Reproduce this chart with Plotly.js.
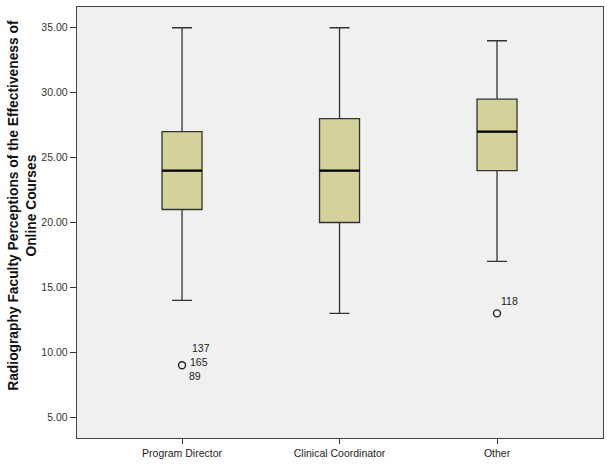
<!DOCTYPE html>
<html><head><meta charset="utf-8">
<script src="https://cdn.plot.ly/plotly-3.0.1.min.js"></script>
<style>body{margin:0;background:#fff}#chart{width:607px;height:470px}</style>
</head><body><div id="chart"></div>
<script>
const categories = ["Program Director", "Clinical Coordinator", "Other"];
const lowerWhisker = [14, 13, 17];
const q1Values = [21, 20, 24];
const medianValues = [24, 24, 27];
const q3Values = [27, 28, 29.5];
const upperWhisker = [35, 35, 34];
const outlierGroup = [0, 2];
const outlierValues = [9, 13];
const outlierLabels = [["137", "165", "89"], ["118"]];
const yTicks = [5, 10, 15, 20, 25, 30, 35];
const yTitle = "Radiography Faculty Perceptions of the Effectiveness of<br>Online Courses";

const BOXW = 0.254;
const xs = categories.map((c, i) => i);

const boxTrace = {
  type: 'box',
  x: xs,
  q1: q1Values, median: medianValues, q3: q3Values,
  lowerfence: lowerWhisker, upperfence: upperWhisker,
  width: BOXW,
  whiskerwidth: 0.5,
  fillcolor: 'rgb(212,210,154)',
  line: {color: '#333333', width: 1.3},
  boxpoints: false,
  hoverinfo: 'skip',
  showlegend: false
};

const mx = [], my = [];
xs.forEach((x, i) => { mx.push(x - BOXW/2, x + BOXW/2, null); my.push(medianValues[i], medianValues[i], null); });
const medianTrace = {type: 'scatter', mode: 'lines', x: mx, y: my, line: {color: '#000', width: 2.2}, hoverinfo: 'skip', showlegend: false};

const outTrace = {
  type: 'scatter', mode: 'markers',
  x: outlierGroup, y: outlierValues,
  marker: {symbol: 'circle-open', size: 7, color: '#222', line: {width: 1.4, color: '#222'}},
  hoverinfo: 'skip', showlegend: false
};

const annotations = [];
outlierGroup.forEach((g, k) => {
  const labs = outlierLabels[k];
  if (labs.length === 3) {
    const shifts = [[8, 17], [6, 3], [5, -11]];
    labs.forEach((t, j) => annotations.push({x: g, y: outlierValues[k], text: t, showarrow: false, xanchor: 'left', yanchor: 'middle', xshift: shifts[j][0], yshift: shifts[j][1], font: {family: 'Liberation Sans, Arial', size: 10.5, color: '#222'}}));
  } else {
    labs.forEach(t => annotations.push({x: g, y: outlierValues[k], text: t, showarrow: false, xanchor: 'left', yanchor: 'middle', xshift: 2, yshift: 12, font: {family: 'Liberation Sans, Arial', size: 10.5, color: '#222'}}));
  }
});
annotations.push({
  xref: 'paper', yref: 'paper', x: -0.1036, y: 0.54, xanchor: 'center', yanchor: 'middle',
  text: '<b>' + yTitle + '</b>', textangle: -90, showarrow: false,
  font: {family: 'Liberation Sans, Arial', size: 13.8, color: '#111'}
});

const layout = {
  width: 607, height: 470,
  margin: {l: 77, r: 4, t: 7, b: 32},
  paper_bgcolor: '#ffffff',
  plot_bgcolor: '#f0f0f0',
  font: {family: 'Liberation Sans, Arial, sans-serif', color: '#333'},
  xaxis: {
    range: [-0.667, 2.673], tickvals: xs, ticktext: categories,
    ticks: 'outside', ticklen: 5, tickcolor: '#333', showgrid: false, zeroline: false,
    showline: true, mirror: true, linecolor: '#444', linewidth: 1.3,
    tickfont: {size: 10.5, color: '#222'}
  },
  yaxis: {
    range: [3.4, 36.6], tickvals: yTicks, tickformat: '.2f',
    ticks: 'outside', ticklen: 6, tickcolor: '#333', showgrid: false, zeroline: false,
    showline: true, mirror: true, linecolor: '#444', linewidth: 1.3,
    tickfont: {size: 10.5, color: '#333'}
  },
  annotations: annotations,
  showlegend: false
};

Plotly.newPlot('chart', [boxTrace, medianTrace, outTrace], layout, {displayModeBar: false, staticPlot: true});
</script></body></html>
